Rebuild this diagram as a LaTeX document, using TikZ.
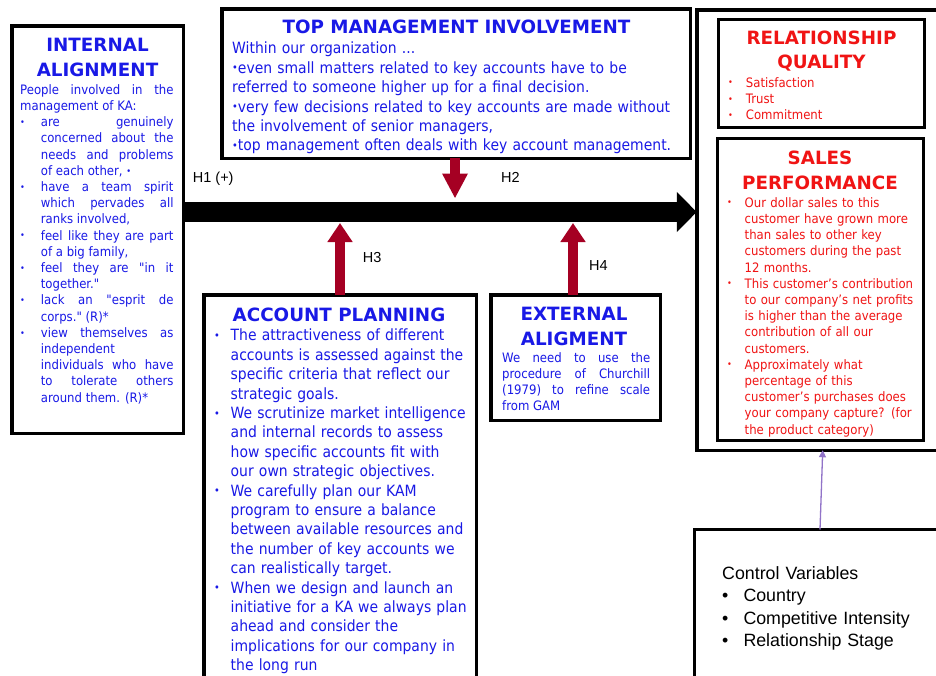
\documentclass[tikz,border=0pt]{standalone}
\usepackage{fontspec}
\setmainfont{DejaVu Sans}
\newfontfamily\bodyfont{DejaVu Sans}[FakeStretch=0.9]
\newfontfamily\arialfont{Liberation Sans}
\usetikzlibrary{arrows.meta}
\setlength{\parindent}{0pt}
\setlength{\parskip}{0pt}

\definecolor{txtblue}{RGB}{25,25,230}
\definecolor{txtred}{RGB}{240,20,20}
\definecolor{hred}{RGB}{165,0,35}
\definecolor{cvpurple}{RGB}{145,115,200}

% small bullet used in the construct boxes
\newcommand{\bul}{\raisebox{0.1em}{\scalebox{0.7}{\textbullet}}}
% hanging bullet item: #1 = text indent, #2 = bullet offset
\newcommand{\bitem}[2]{\hangindent=#1\hangafter=1\noindent\makebox[#1][l]{\hspace{#2}\bul}\ignorespaces}

\tikzset{
  box/.style={draw=black, line width=3.5pt, outer sep=0pt, inner sep=0pt, anchor=north west},
  thinbox/.style={box, line width=3pt},
  ttl/.style={align=center, inner sep=0pt, font=\bfseries\fontsize{18.3}{24.5}\selectfont},
  smalltxt/.style={anchor=north west, inner sep=0pt, font=\bodyfont\fontsize{13}{16.2}\selectfont},
  bigtxt/.style={anchor=north west, inner sep=0pt, font=\bodyfont\fontsize{15.5}{19.4}\selectfont},
  harrow/.style={draw=hred, line width=9.5pt},
  hlabel/.style={anchor=west, inner sep=0pt, font=\arialfont\fontsize{14.5}{17}\selectfont},
}

\begin{document}
\begin{tikzpicture}[x=1pt,y=-1pt]
\useasboundingbox (0,0) rectangle (936,675);
\fill[white] (0,0) rectangle (936,675);
\clip (0,0) rectangle (936,675);

% ---------- construct boxes ----------
\node[box, minimum width=171.5, minimum height=407.5] (ia) at (11.75,25.75) {};
\node[box, minimum width=468.5, minimum height=149.5] (tm) at (221.75,8.75) {};
\node[box, minimum width=300, minimum height=440.5] (rb) at (696.75,9.75) {};
\node[thinbox, minimum width=206, minimum height=108] (rq) at (718.5,19.5) {};
\node[thinbox, minimum width=206, minimum height=302] (sp) at (717.5,138.5) {};
\node[box, minimum width=272.5, minimum height=420] (ap) at (203.75,294.75) {};
\node[box, minimum width=169.5, minimum height=125.5] (ea) at (490.75,294.75) {};
\node[thinbox, minimum width=300, minimum height=200] (cv) at (694.5,529.5) {};

% ---------- internal alignment ----------
\node[ttl, text=txtblue] (iat) at (97.5,57.5) {INTERNAL\\ALIGNMENT};
\node[smalltxt, text=txtblue, text width=153.3, align=justify] (iab) at (20,84.3)
{\tolerance=10000\hbadness=10000
People involved in the\linebreak
management of KA:\par
\bitem{20.7pt}{0pt}are genuinely\linebreak
concerned about the\linebreak
needs and problems\linebreak
of each other, \bul\par
\bitem{20.7pt}{0pt}have a team spirit\linebreak
which pervades all\linebreak
ranks involved,\par
\bitem{20.7pt}{0pt}feel like they are part\linebreak
of a big family,\par
\bitem{20.7pt}{0pt}feel they are "in it\linebreak
together."\par
\bitem{20.7pt}{0pt}lack an "esprit de\linebreak
corps." (R)*\par
\bitem{20.7pt}{0pt}view themselves as\linebreak
independent\linebreak
individuals who have\linebreak
to tolerate others\linebreak
around them. (R)*\par};

% ---------- top management involvement ----------
\node[ttl, text=txtblue] (tmt) at (456.5,27) {TOP MANAGEMENT INVOLVEMENT};
\node[bigtxt, text=txtblue, text width=455, align=left] (tmb) at (232,42)
{Within our organization ...\\
\bul even small matters related to key accounts have to be\\
referred to someone higher up for a final decision.\\
\bul very few decisions related to key accounts are made without\\
the involvement of senior managers,\\
\bul top management often deals with key account management.};

% ---------- relationship quality ----------
\node[ttl, text=txtred] (rqt) at (821.5,51) {RELATIONSHIP\\QUALITY};
\node[smalltxt, text=txtred, text width=190, align=left] (rqb) at (727,77.2)
{\bitem{18.7pt}{1pt}Satisfaction\par
\bitem{18.7pt}{1pt}Trust\par
\bitem{18.7pt}{1pt}Commitment\par};

% ---------- sales performance ----------
\node[ttl, text=txtred] (spt) at (820,170.5) {SALES\\PERFORMANCE};
\node[smalltxt, text=txtred, text width=195, align=left] (spb) at (726,197.2)
{\bitem{18.5pt}{1pt}Our dollar sales to this\newline
customer have grown more\newline
than sales to other key\newline
customers during the past\newline
12 months.\par
\bitem{18.5pt}{1pt}This customer’s contribution\newline
to our company’s net profits\newline
is higher than the average\newline
contribution of all our\newline
customers.\par
\bitem{18.5pt}{1pt}Approximately what\newline
percentage of this\newline
customer’s purchases does\newline
your company capture? (for\newline
the product category)\par};

% ---------- account planning ----------
\node[ttl, text=txtblue] (apt) at (339,314.5) {ACCOUNT PLANNING};
\node[bigtxt, text=txtblue, text width=262, align=left] (apb) at (212.5,329)
{\bitem{18pt}{1.5pt}The attractiveness of different\newline
accounts is assessed against the\newline
specific criteria that reflect our\newline
strategic goals.\par
\bitem{18pt}{1.5pt}We scrutinize market intelligence\newline
and internal records to assess\newline
how specific accounts fit with\newline
our own strategic objectives.\par
\bitem{18pt}{1.5pt}We carefully plan our KAM\newline
program to ensure a balance\newline
between available resources and\newline
the number of key accounts we\newline
can realistically target.\par
\bitem{18pt}{1.5pt}When we design and launch an\newline
initiative for a KA we always plan\newline
ahead and consider the\newline
implications for our company in\newline
the long run\par};

% ---------- external alignment ----------
\node[ttl, text=txtblue] (eat) at (574,326.5) {EXTERNAL\\ALIGMENT};
\node[smalltxt, text=txtblue, text width=148, align=justify] (eab) at (502,352)
{\tolerance=10000\hbadness=10000
We need to use the\linebreak
procedure of Churchill\linebreak
(1979) to refine scale\linebreak
from GAM\par};

% ---------- control variables ----------
\node[anchor=north west, inner sep=0pt, text width=210, align=left,
      font=\arialfont\fontsize{17.8}{22.3}\selectfont] (cvb) at (722,566.3)
{Control Variables\\
\makebox[21.3pt][l]{\textbullet}Country\\
\makebox[21.3pt][l]{\textbullet}Competitive Intensity\\
\makebox[21.3pt][l]{\textbullet}Relationship Stage};

% ---------- hypothesised paths ----------
\coordinate (mainy) at (0,212);
\draw[line width=20pt, -{Triangle[length=20pt,width=39pt]}] (ia.east |- mainy) -- (rb.west |- mainy);

\coordinate (h2x) at (455,0);
\coordinate (h2tip) at (455,198.5);
\draw[harrow, -{Triangle[length=25pt,width=24pt]}] (tm.south -| h2x) -- (h2tip);

\coordinate (h3x) at (340,0);
\coordinate (h3tip) at (340,223);
\draw[harrow, -{Triangle[length=19pt,width=24pt]}] (ap.north -| h3x) -- (h3tip);

\coordinate (h4x) at (573,0);
\coordinate (h4tip) at (573,223);
\draw[harrow, -{Triangle[length=19pt,width=24pt]}] (ea.north -| h4x) -- (h4tip);

\coordinate (cvx) at (820,0);
\coordinate (rbx) at (822.7,0);
\draw[draw=cvpurple, line width=1.3pt, -{Triangle[length=7pt,width=7pt]}] (cv.north -| cvx) -- (rb.south -| rbx);

% ---------- path labels ----------
\node[hlabel] (h1l) at (192.7,179) {H1 (+)};
\node[hlabel] (h2l) at (501,177) {H2};
\node[hlabel] (h3l) at (362.7,258) {H3};
\node[hlabel] (h4l) at (589,266) {H4};
\end{tikzpicture}
\end{document}
